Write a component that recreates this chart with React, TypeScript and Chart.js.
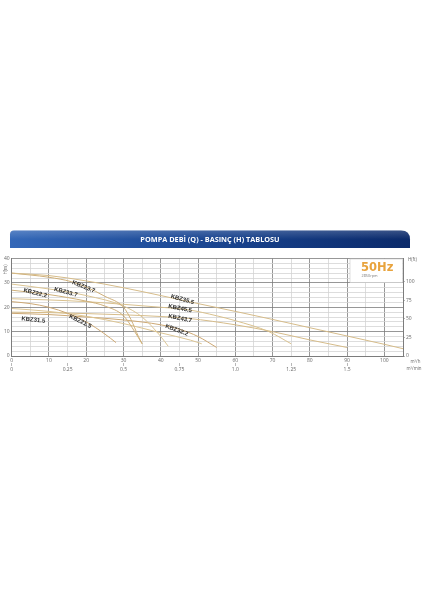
import { useEffect, useRef } from 'react';
import { Chart, registerables } from 'chart.js';
import type { Plugin } from 'chart.js';

Chart.register(...registerables);

// Q (m³/h) and H (m)
const q35_5 = [0, 10, 20, 30, 40, 50, 60, 70, 80, 90, 100, 105];
const h35_5 = [34, 33, 30.8, 28, 24.8, 21.5, 18.3, 15, 11.6, 8.2, 4.8, 3];
const q23_7 = [0, 10, 16, 20, 25, 30, 32, 34, 35];
const h23_7 = [34, 32.3, 30.5, 28.3, 24.5, 20, 15, 8, 5];
const q33_7 = [0, 10, 20, 30, 35, 40, 42];
const h33_7 = [29.5, 27.5, 24.8, 20.5, 16, 8, 4];
const q22_2 = [0, 10, 20, 25, 30, 33, 35];
const h22_2 = [27, 25.2, 22.5, 20.5, 16.5, 10, 5];
const q45_5 = [0, 10, 20, 30, 40, 47.6, 55, 60, 69, 75];
const h45_5 = [23.5, 23, 22.3, 21.2, 20, 18.9, 16.5, 14.5, 10, 5];
const q21_5 = [0, 5, 10, 15, 20, 25, 28];
const h21_5 = [22.3, 21.5, 20, 17.5, 14, 9, 5.5];
const q31_5 = [0, 10, 20, 30, 40, 48, 51];
const h31_5 = [19.5, 18.3, 16.3, 13.3, 9.5, 6.5, 5];
const q43_7 = [0, 10, 20, 30, 40, 47.6, 60, 70, 80, 90];
const h43_7 = [18, 17.8, 17.4, 16.9, 16.2, 15.4, 12.8, 10, 6.6, 3.5];
const q32_2 = [0, 10, 20, 30, 40, 45, 50, 55];
const h32_2 = [17.5, 17, 16, 14.8, 12.8, 11, 8, 3.5];

const seriesNames = ['KBZ35.5', 'KBZ23.7', 'KBZ33.7', 'KBZ22.2', 'KBZ45.5', 'KBZ21.5', 'KBZ31.5', 'KBZ43.7', 'KBZ32.2'];
const seriesQ = [q35_5, q23_7, q33_7, q22_2, q45_5, q21_5, q31_5, q43_7, q32_2];
const seriesH = [h35_5, h23_7, h33_7, h22_2, h45_5, h21_5, h31_5, h43_7, h32_2];
const curveColors = ['#d6bc8a', '#cfb07a', '#dcc594', '#cfb07a', '#d9c18e', '#cda874', '#dcc594', '#d6bc8a', '#cda874'];

const qTicks = [0, 10, 20, 30, 40, 50, 60, 70, 80, 90, 100];
const minTicks = [0, 0.25, 0.5, 0.75, 1.0, 1.25, 1.5];
const minTickLabels = ['0', '0.25', '0.5', '0.75', '1.0', '1.25', '1.5'];
const ftTicks = [0, 25, 50, 75, 100];

// where the model names sit (in data units)
const curveLabels = [
  { text: 'KBZ23.7', q: 19.3, h: 28.4, angle: 22 },
  { text: 'KBZ33.7', q: 14.5, h: 26.2, angle: 15 },
  { text: 'KBZ22.2', q: 6.3, h: 25.8, angle: 14 },
  { text: 'KBZ31.5', q: 5.8, h: 14.8, angle: 6 },
  { text: 'KBZ21.5', q: 18.4, h: 14.2, angle: 26 },
  { text: 'KBZ35.5', q: 45.8, h: 23.2, angle: 16 },
  { text: 'KBZ45.5', q: 45.2, h: 19.5, angle: 11 },
  { text: 'KBZ43.7', q: 45.2, h: 15.4, angle: 11 },
  { text: 'KBZ32.2', q: 44.3, h: 10.6, angle: 20 },
];

const TITLE = 'POMPA DEBİ (Q) - BASINÇ (H) TABLOSU';
const M_TO_FT = 3.28084;
const DARK = '#7c7c7c';
const LIGHT = '#d4d4d4';
const TICK_COLOR = '#666';

const decor: Plugin<'line'> = {
  id: 'decor',
  beforeDraw(chart) {
    const ctx = chart.ctx;
    ctx.save();
    // title banner
    const x0 = 10, x1 = 410, y0 = 230.5, y1 = 248;
    const g = ctx.createLinearGradient(x0, 0, x1, 0);
    g.addColorStop(0, '#3468b8');
    g.addColorStop(0.45, '#1c4894');
    g.addColorStop(1, '#0b2a6a');
    ctx.fillStyle = g;
    ctx.beginPath();
    ctx.moveTo(x0, y1);
    ctx.lineTo(x0, y0 + 4);
    ctx.quadraticCurveTo(x0, y0, x0 + 4, y0);
    ctx.lineTo(x1 - 9, y0);
    ctx.quadraticCurveTo(x1, y0, x1, y0 + 9);
    ctx.lineTo(x1, y1);
    ctx.closePath();
    ctx.fill();
    const hl = ctx.createLinearGradient(0, y0, 0, y1);
    hl.addColorStop(0, 'rgba(255,255,255,0.18)');
    hl.addColorStop(0.5, 'rgba(255,255,255,0)');
    ctx.fillStyle = hl;
    ctx.fill();
    ctx.fillStyle = '#ffffff';
    ctx.font = 'bold 7.3px "Open Sans"';
    ctx.textAlign = 'center';
    ctx.textBaseline = 'middle';
    ctx.fillText(TITLE, 210, y0 + (y1 - y0) / 2 + 0.5);
    ctx.restore();
  },
  afterDatasetsDraw(chart) {
    const ctx = chart.ctx;
    const xs = chart.scales.x;
    const ys = chart.scales.y;
    ctx.save();
    ctx.fillStyle = '#2b2b2b';
    ctx.font = 'bold 6px "Liberation Sans"';
    ctx.textAlign = 'center';
    ctx.textBaseline = 'middle';
    curveLabels.forEach((l) => {
      ctx.save();
      ctx.translate(xs.getPixelForValue(l.q), ys.getPixelForValue(l.h));
      ctx.rotate((l.angle * Math.PI) / 180);
      ctx.fillText(l.text, 0, 0);
      ctx.restore();
    });
    ctx.restore();
  },
  afterDraw(chart) {
    const ctx = chart.ctx;
    const area = chart.chartArea;
    ctx.save();
    // 50Hz box
    const bx = 350, by = area.top + 0.5, bw = area.right - bx - 0.5, bh = 23.5;
    ctx.fillStyle = '#ffffff';
    ctx.fillRect(bx, by, bw, bh);
    ctx.strokeStyle = '#c8c8c8';
    ctx.lineWidth = 0.6;
    ctx.strokeRect(bx, by, bw, bh);
    ctx.fillStyle = '#e8a33d';
    ctx.font = 'bold 11.5px "DejaVu Sans"';
    ctx.textAlign = 'left';
    ctx.textBaseline = 'alphabetic';
    ctx.fillText('50Hz', 361, 270.5);
    ctx.fillStyle = '#777';
    ctx.font = '3.8px "Open Sans"';
    ctx.fillText('2850rpm', 361.5, 277);

    // units
    ctx.fillStyle = TICK_COLOR;
    ctx.font = '4.4px "Open Sans"';
    ctx.textBaseline = 'middle';
    ctx.fillText('H(ft)', 408, 259.5);
    ctx.fillText('m³/h', 410.5, 362);
    ctx.fillText('m³/min', 406.5, 369);
    ctx.save();
    ctx.translate(5.8, 269.5);
    ctx.rotate(-Math.PI / 2);
    ctx.textAlign = 'center';
    ctx.fillText('H(m)', 0, 0);
    ctx.restore();
    ctx.restore();
  },
};

const App = () => {
  const canvasRef = useRef<HTMLCanvasElement>(null);

  useEffect(() => {
    const canvas = canvasRef.current;
    if (!canvas) return;

    const tickFont = { family: 'Open Sans', size: 5 };

    const chart = new Chart(canvas, {
      type: 'line',
      data: {
        datasets: seriesNames.map((name, i) => ({
          label: name,
          data: seriesQ[i].map((q, j) => ({ x: q, y: seriesH[i][j] })),
          borderColor: curveColors[i],
          borderWidth: 1,
          pointRadius: 0,
          cubicInterpolationMode: 'monotone' as const,
          fill: false,
        })),
      },
      options: {
        responsive: true,
        maintainAspectRatio: false,
        animation: false,
        layout: { padding: { top: 258.5, left: 0, right: 0, bottom: 224 } },
        plugins: {
          legend: { display: false },
          tooltip: { enabled: false },
        },
        scales: {
          x: {
            type: 'linear',
            position: 'bottom',
            weight: 0,
            min: 0,
            max: 105,
            afterFit: (scale) => {
              scale.height = 7;
            },
            afterBuildTicks: (scale) => {
              const t = [];
              for (let v = 0; v <= 105; v += 5) t.push({ value: v });
              scale.ticks = t;
            },
            ticks: {
              autoSkip: false,
              maxRotation: 0,
              padding: 1,
              color: TICK_COLOR,
              font: tickFont,
              callback: (v) => (qTicks.includes(Number(v)) ? String(v) : ''),
            },
            grid: {
              color: (c) => (c.tick && c.tick.value % 10 === 0 ? DARK : LIGHT),
              tickColor: (c) => (c.tick && qTicks.includes(c.tick.value) ? DARK : 'rgba(0,0,0,0)'),
              tickLength: 1,
              lineWidth: 0.8,
            },
            border: { color: DARK, width: 1 },
          },
          x2: {
            type: 'linear',
            position: 'bottom',
            weight: 1,
            min: 0,
            max: 105 / 60,
            afterFit: (scale) => {
              scale.height = 13;
            },
            afterBuildTicks: (scale) => {
              scale.ticks = minTicks.map((v) => ({ value: v }));
            },
            ticks: {
              autoSkip: false,
              maxRotation: 0,
              padding: 1,
              color: TICK_COLOR,
              font: tickFont,
              callback: (v) => {
                const k = minTicks.indexOf(Number(v));
                return k >= 0 ? minTickLabels[k] : '';
              },
            },
            grid: { drawOnChartArea: false, tickLength: 3, color: '#999', lineWidth: 0.7 },
            border: { display: false },
          },
          y: {
            type: 'linear',
            position: 'left',
            min: 0,
            max: 40,
            afterFit: (scale) => {
              scale.width = 11.7;
            },
            afterBuildTicks: (scale) => {
              const t = [];
              for (let v = 0; v <= 40; v += 2) t.push({ value: v });
              scale.ticks = t;
            },
            ticks: {
              autoSkip: false,
              padding: 2,
              color: TICK_COLOR,
              font: tickFont,
              callback: (v) => (Number(v) % 10 === 0 ? String(v) : ''),
            },
            grid: {
              drawTicks: false,
              color: (c) => (c.tick && c.tick.value % 10 === 0 ? DARK : LIGHT),
              lineWidth: 0.8,
            },
            border: { color: DARK, width: 1 },
          },
          yFt: {
            type: 'linear',
            position: 'right',
            min: 0,
            max: 40 * M_TO_FT,
            afterFit: (scale) => {
              scale.width = 21;
            },
            afterBuildTicks: (scale) => {
              scale.ticks = ftTicks.map((v) => ({ value: v }));
            },
            ticks: {
              autoSkip: false,
              padding: 1,
              color: TICK_COLOR,
              font: tickFont,
              callback: (v) => String(v),
            },
            grid: { drawOnChartArea: false, tickLength: 2, color: '#999', lineWidth: 0.7 },
            border: { color: DARK, width: 1 },
          },
        },
      },
      plugins: [decor],
    });

    return () => {
      chart.destroy();
    };
  }, []);

  return (
    <div style={{ position: 'absolute', left: 0, top: 0, width: 424, height: 600 }}>
      <canvas ref={canvasRef}></canvas>
    </div>
  );
};

export default App;
